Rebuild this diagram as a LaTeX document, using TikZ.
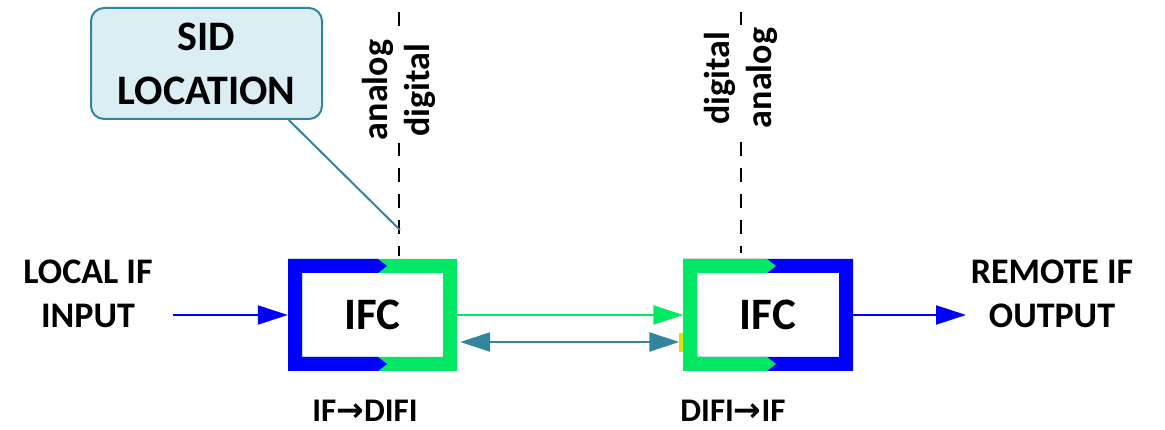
\documentclass[tikz,border=0pt]{standalone}
\usepackage{fontspec}
\setmainfont{Carlito}
\newfontfamily\symfont{DejaVu Sans}
\usetikzlibrary{arrows.meta,calc}
\definecolor{cgreen}{RGB}{0,232,100}
\definecolor{cblue}{RGB}{0,0,255}
\definecolor{cteal}{RGB}{49,133,156}
\definecolor{cfill}{RGB}{218,238,243}
\definecolor{cyel}{RGB}{224,224,0}
\tikzset{
  lbl/.style={font=\bfseries\fontsize{36}{44}\selectfont, align=center, inner sep=0pt},
  ifc/.style={minimum width=169pt, minimum height=112pt, inner sep=0pt},
  ifctext/.style={font=\bfseries\fontsize{45}{50}\selectfont, inner sep=0pt},
  vtxt/.style={font=\bfseries\fontsize{36}{42}\selectfont, align=center, rotate=90, fill=white, inner sep=3pt},
  divider/.style={line width=1.8pt, dash pattern=on 14pt off 12pt},
  sig/.style={line width=2pt},
  tip/.style={-{Triangle[length=30pt,width=19pt]}},
  bot/.style={font=\bfseries\fontsize{33}{38}\selectfont, anchor=base, inner sep=0pt},
}
\begin{document}
\begin{tikzpicture}[x=1pt,y=-1pt]
\useasboundingbox (0,0) rectangle (1165,430);
% boxes
\node[ifc] (L) at (372.5,315) {};
\node[ifc] (R) at (768,315) {};
% left frame: green full, blue U
\fill[cgreen, even odd rule] (288,259) rectangle (457,371) (302,273) rectangle (443,357);
\fill[cblue] (288,259) -- (378,259) -- (387,266) -- (378,273) -- (302,273) -- (302,357) -- (378,357) -- (387,364) -- (378,371) -- (288,371) -- cycle;
% right frame: blue full, green U
\fill[cblue, even odd rule] (683,259) rectangle (853,371) (697,273) rectangle (839,357);
\fill[cgreen] (683,259) -- (767,259) -- (776,266) -- (767,273) -- (697,273) -- (697,357) -- (767,357) -- (776,364) -- (767,371) -- (683,371) -- cycle;
\node[ifctext] (Lt) at (L) {IFC};
\node[ifctext] (Rt) at (R) {IFC};
% yellow port
\fill[cyel] (679,333) rectangle (683,352);
% labels
\node[lbl] (in) at (88,294) {LOCAL IF\\INPUT};
\node[lbl] (out) at (1052,294) {REMOTE IF\\OUTPUT};
\coordinate (inS) at (173,315);
\coordinate (outE) at (966,315);
\draw[sig, cblue, tip] (inS) -- (L.west);
\draw[sig, cblue, tip] (R.east) -- (outE);
\draw[sig, cgreen, tip] (L.east) -- (R.west);
\draw[line width=2.5pt, cteal, {Triangle[length=30pt,width=19pt]}-{Triangle[length=30pt,width=19pt]}, shorten <=3pt, shorten >=4pt]
  ([yshift=-27pt]L.east) -- ([yshift=-27pt]R.west);
% dividers
\coordinate (d1t) at (399,12);
\coordinate (d1b) at (399,256);
\coordinate (d2t) at (741,12);
\coordinate (d2b) at (741,253);
\draw[divider] (d1t) -- (d1b);
\draw[divider] (d2t) -- (d2b);
\node[vtxt] (v1) at (399,90) {analog\\digital};
\node[vtxt] (v2) at (741,78) {digital\\analog};
% callout
\node[draw=cteal, fill=cfill, line width=2pt, rounded corners=13pt, minimum width=231pt, minimum height=111pt,
  font=\bfseries\fontsize{42}{54}\selectfont, align=center, inner sep=0pt] (sid) at (206.5,63.5)
  {SID\\LOCATION};
\coordinate (ptip) at (400,230);
\draw[line width=2pt, cteal] ($(sid.south west)!0.853!(sid.south east)$) -- (ptip);
% bottom labels
\node[bot] (b1) at (365,421) {IF{\symfont\bfseries →}DIFI};
\node[bot] (b2) at (733,421) {DIFI{\symfont\bfseries →}IF};
\end{tikzpicture}
\end{document}
